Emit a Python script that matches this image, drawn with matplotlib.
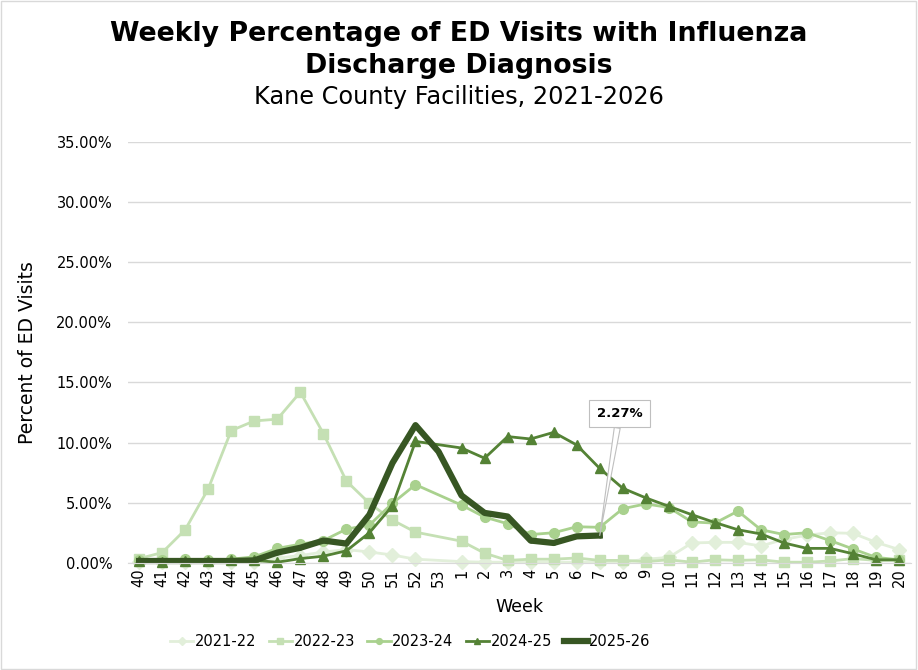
import numpy as np
import matplotlib
matplotlib.use('Agg')
import matplotlib.pyplot as plt
from matplotlib.patches import Rectangle
from matplotlib.ticker import FuncFormatter

nan = np.nan

weeks = [str(w) for w in range(40, 54)] + [str(w) for w in range(1, 21)]

s2021 = [0.05, 0.05, 0.05, 0.05, 0.05, 0.05, 0.4, 0.6, 0.9, 1.1, 0.9, 0.65, 0.3, nan,
         0.1, 0.05, 0.05, 0.05, 0.05, 0.05, 0.05, 0.05, 0.3, 0.45, 1.65, 1.7, 1.7, 1.4,
         1.95, 2.3, 2.5, 2.45, 1.7, 1.1]
s2022 = [0.35, 0.85, 2.75, 6.15, 11.0, 11.8, 11.95, 14.2, 10.75, 6.8, 4.95, 3.55, 2.55, nan,
         1.8, 0.8, 0.2, 0.3, 0.3, 0.4, 0.2, 0.2, 0.1, 0.25, 0.05, 0.25, 0.2, 0.25,
         0.05, 0.05, 0.15, 0.35, 0.2, 0.2]
s2023 = [0.2, 0.2, 0.3, 0.2, 0.3, 0.5, 1.2, 1.55, 1.85, 2.8, 3.15, 4.95, 6.5, nan,
         4.8, 3.8, 3.25, 2.35, 2.5, 3.0, 2.95, 4.5, 4.9, 4.6, 3.4, 3.3, 4.3, 2.75,
         2.35, 2.5, 1.85, 1.15, 0.45, 0.25]
s2024 = [0.15, 0.1, 0.15, 0.15, 0.2, 0.2, 0.05, 0.35, 0.55, 1.0, 2.5, 4.75, 10.1, nan,
         9.55, 8.7, 10.5, 10.3, 10.85, 9.8, 7.85, 6.2, 5.4, 4.7, 4.0, 3.35, 2.75, 2.4,
         1.65, 1.2, 1.2, 0.75, 0.25, 0.25]
s2025 = [0.15, 0.15, 0.15, 0.15, 0.15, 0.2, 0.85, 1.25, 1.85, 1.6, 4.0, 8.3, 11.45, 9.25,
         5.6, 4.15, 3.85, 1.85, 1.65, 2.2, 2.27, nan, nan, nan, nan, nan, nan, nan,
         nan, nan, nan, nan, nan, nan]

series = [
    ('2021-22', s2021, '#e2efda', 'D', 7, 2.0),
    ('2022-23', s2022, '#c5e0b4', 's', 7, 2.0),
    ('2023-24', s2023, '#a9d18e', 'o', 7, 2.0),
    ('2024-25', s2024, '#548235', '^', 7, 2.0),
    ('2025-26', s2025, '#375623', 'o', 2, 4.5),
]

fig = plt.figure(figsize=(9.18, 6.7), dpi=100)
ax = fig.add_axes([0.139, 0.160, 0.853, 0.628])

x_all = np.arange(len(weeks))
for name, vals, color, marker, ms, lw in series:
    v = np.array(vals, dtype=float)
    ok = ~np.isnan(v)
    ax.plot(x_all[ok], v[ok], color=color, marker=marker, markersize=ms, lw=lw,
            label=name, solid_joinstyle='round', clip_on=False)

ax.set_xlim(-0.5, len(weeks) - 0.5)
ax.set_ylim(0, 35)
ax.set_yticks(np.arange(0, 36, 5))
ax.yaxis.set_major_formatter(FuncFormatter(lambda v, p: f'{v:.2f}%'))
ax.set_xticks(x_all)
ax.set_xticklabels(weeks, rotation=90)
ax.tick_params(axis='both', length=0, labelsize=10.5, colors='#000000')
ax.tick_params(axis='y', pad=11)
ax.tick_params(axis='x', pad=4)
ax.grid(axis='y', color='#d9d9d9', lw=1)
ax.set_axisbelow(True)
for sp in ['top', 'right', 'left']:
    ax.spines[sp].set_visible(False)
ax.spines['bottom'].set_color('#d9d9d9')

ax.set_ylabel('Percent of ED Visits', fontsize=13.5, labelpad=14)
ax.set_xlabel('Week', fontsize=12.5, labelpad=8)

# callout for the latest value
last = 20
ax.annotate(f'{s2025[last]:.2f}%', xy=(last, s2025[last]), xytext=(20.86, 12.4),
            ha='center', va='center', fontsize=9.5, fontweight='bold',
            bbox=dict(boxstyle='square,pad=0.55', fc='white', ec='#bfbfbf', lw=0.8),
            arrowprops=dict(arrowstyle='wedge,tail_width=0.45,shrink_factor=0.5',
                            fc='white', ec='#bfbfbf', lw=0.8, shrinkA=0, shrinkB=0))

fig.text(0.5, 0.949, 'Weekly Percentage of ED Visits with Influenza',
         ha='center', va='center', fontsize=19.3, fontweight='bold')
fig.text(0.5, 0.902, 'Discharge Diagnosis',
         ha='center', va='center', fontsize=19.3, fontweight='bold')
fig.text(0.5, 0.855, 'Kane County Facilities, 2021-2026',
         ha='center', va='center', fontsize=17.3)

fig.legend(loc='center', bbox_to_anchor=(0.447, 0.042),
           ncol=5, frameon=False, fontsize=10.5,
           handlelength=1.6, handletextpad=0.1, columnspacing=0.85, markerscale=0.6)

fig.patches.append(Rectangle((0.001, 0.001), 0.997, 0.997, transform=fig.transFigure,
                             fill=False, ec='#d9d9d9', lw=1))

fig.savefig('out.png', dpi=100)
